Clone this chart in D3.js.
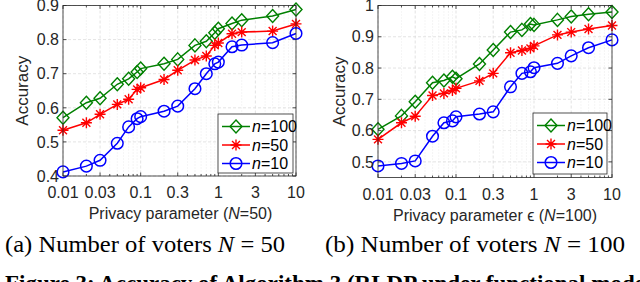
<!DOCTYPE html>
<html><head><meta charset="utf-8">
<script src="https://cdn.jsdelivr.net/npm/d3@7"></script>
<style>body{margin:0;background:#fff}svg{display:block}</style>
</head><body>
<svg id="c" width="640" height="282"></svg>
<script>
// ---- data ----
const xA = [0.01,0.02,0.03,0.05,0.07,0.09,0.1,0.2,0.3,0.5,0.7,0.9,1,1.5,2,5,10];
const xB = [0.01,0.02,0.03,0.05,0.07,0.09,0.1,0.2,0.3,0.5,0.7,0.9,1,2,3,5,10];
const a_n100 = [0.571,0.615,0.628,0.669,0.685,0.705,0.715,0.729,0.742,0.783,0.795,0.820,0.832,0.847,0.857,0.869,0.888];
const a_n50  = [0.534,0.556,0.581,0.610,0.625,0.654,0.659,0.683,0.710,0.740,0.752,0.783,0.790,0.817,0.822,0.825,0.846];
const a_n10  = [0.412,0.429,0.446,0.496,0.544,0.568,0.574,0.590,0.605,0.656,0.700,0.729,0.734,0.779,0.784,0.791,0.818];
const b_n100 = [0.604,0.647,0.692,0.753,0.760,0.772,0.766,0.813,0.858,0.915,0.922,0.941,0.938,0.954,0.965,0.972,0.979];
const b_n50  = [0.572,0.625,0.646,0.712,0.719,0.728,0.735,0.759,0.783,0.849,0.856,0.863,0.871,0.906,0.915,0.925,0.936];
const b_n10  = [0.487,0.495,0.503,0.582,0.625,0.631,0.644,0.653,0.660,0.740,0.783,0.788,0.801,0.815,0.839,0.865,0.890];
const xTicks = [0.01,0.03,0.1,0.3,1,3,10];
const xTickLabels = ["0.01","0.03","0.1","0.3","1","3","10"];
const yTicksA = [0.4,0.5,0.6,0.7,0.8,0.9];
const yTicksB = [0.5,0.6,0.7,0.8,0.9,1];
const seriesNames = ["100","50","10"];
const colors = ["#008000","#ff0000","#0000ff"];
const markers = ["diamond","star","circle"];

const svg = d3.select("#c");
const AX = "#262626";
const FONT = "'Liberation Sans', Arial, sans-serif";

function marker(g, type, cx, cy, color){
  if(type==="diamond"){
    g.append("path").attr("d",`M${cx},${cy-6.5}L${cx+6},${cy}L${cx},${cy+6.5}L${cx-6},${cy}Z`)
     .attr("fill","none").attr("stroke",color).attr("stroke-width",1.4);
  } else if(type==="circle"){
    g.append("circle").attr("cx",cx).attr("cy",cy).attr("r",5.8)
     .attr("fill","none").attr("stroke",color).attr("stroke-width",1.5);
  } else {
    const r=5.5; let d="";
    d+=`M${cx-r},${cy}L${cx+r},${cy}M${cx},${cy-r}L${cx},${cy+r}`;
    const k=r*0.72;
    d+=`M${cx-k},${cy-k}L${cx+k},${cy+k}M${cx-k},${cy+k}L${cx+k},${cy-k}`;
    g.append("path").attr("d",d).attr("stroke",color).attr("stroke-width",1.4).attr("fill","none");
  }
}

function panel(opts){
  const {x0,x1,y0,y1,xs,yDomain,yTicks,title,ylabX,yTickX,legend} = opts;
  const x = d3.scaleLog().domain([0.01,10]).range([x0,x1]);
  const y = d3.scaleLinear().domain(yDomain).range([y1,y0]);
  const g = svg.append("g");
  const minor=[];
  for(let e=-2;e<1;e++) for(let m=2;m<=9;m++){ const v=m*Math.pow(10,e); if(!xTicks.some(t=>Math.abs(t-v)<1e-9)) minor.push(v); }
  g.selectAll(".mg").data(minor).join("line")
    .attr("x1",d=>x(d)).attr("x2",d=>x(d)).attr("y1",y0).attr("y2",y1)
    .attr("stroke","#e3e3e3").attr("stroke-width",0.7).attr("stroke-dasharray","1,2");
  g.selectAll(".gx").data(xTicks).join("line")
    .attr("x1",d=>x(d)).attr("x2",d=>x(d)).attr("y1",y0).attr("y2",y1)
    .attr("stroke","#dcdcdc").attr("stroke-width",0.8).attr("stroke-dasharray","3,2");
  g.selectAll(".gy").data(yTicks).join("line")
    .attr("x1",x0).attr("x2",x1).attr("y1",d=>y(d)).attr("y2",d=>y(d))
    .attr("stroke","#dcdcdc").attr("stroke-width",0.8).attr("stroke-dasharray","3,2");
  const tk=g.append("g").attr("stroke",AX).attr("stroke-width",0.8);
  xTicks.forEach(v=>{tk.append("line").attr("x1",x(v)).attr("x2",x(v)).attr("y1",y1).attr("y2",y1-3.5);
    tk.append("line").attr("x1",x(v)).attr("x2",x(v)).attr("y1",y0).attr("y2",y0+3.5);});
  minor.forEach(v=>{tk.append("line").attr("x1",x(v)).attr("x2",x(v)).attr("y1",y1).attr("y2",y1-2);
    tk.append("line").attr("x1",x(v)).attr("x2",x(v)).attr("y1",y0).attr("y2",y0+2);});
  yTicks.forEach(v=>{tk.append("line").attr("x1",x0).attr("x2",x0+3.5).attr("y1",y(v)).attr("y2",y(v));
    tk.append("line").attr("x1",x1).attr("x2",x1-3.5).attr("y1",y(v)).attr("y2",y(v));});
  opts.series.forEach((vals,i)=>{
    const line=d3.line().x((d,j)=>x(xs[j])).y(d=>y(d));
    g.append("path").attr("d",line(vals)).attr("fill","none").attr("stroke",colors[i]).attr("stroke-width",1.5);
    vals.forEach((v,j)=>marker(g,markers[i],x(xs[j]),y(v),colors[i]));
  });
  g.append("rect").attr("x",x0).attr("y",y0).attr("width",x1-x0).attr("height",y1-y0)
    .attr("fill","none").attr("stroke",AX).attr("stroke-width",0.8);
  g.selectAll(".xl").data(xTicks).join("text").attr("x",d=>x(d)).attr("y",y1+22)
    .attr("text-anchor","middle").attr("font-family",FONT).attr("font-size",16).attr("fill",AX)
    .text((d,i)=>xTickLabels[i]);
  g.selectAll(".yl").data(yTicks).join("text").attr("x",yTickX).attr("y",d=>y(d)+5.7)
    .attr("text-anchor","end").attr("font-family",FONT).attr("font-size",16).attr("fill",AX)
    .text(d=>d3.format("")(d));
  g.append("text").attr("transform",`translate(${ylabX},${(y0+y1)/2}) rotate(-90)`)
    .attr("text-anchor","middle").attr("font-family",FONT).attr("font-size",17).attr("fill",AX).text("Accuracy");
  const t=g.append("text").attr("x",(x0+x1)/2+opts.titleDx).attr("y",y1+43).attr("text-anchor","middle")
    .attr("font-family",FONT).attr("font-size",16).attr("fill",AX);
  title.forEach(p=>t.append("tspan").attr("font-style",p.i?"italic":"normal").text(p.t));
  const L=legend;
  const lg=g.append("g");
  lg.append("rect").attr("x",L.x).attr("y",L.y).attr("width",L.w).attr("height",L.h)
    .attr("fill","#fff").attr("stroke",AX).attr("stroke-width",0.8);
  seriesNames.forEach((s,i)=>{
    const cy=L.y+12.5+i*18.5;
    lg.append("line").attr("x1",L.x+4).attr("x2",L.x+32).attr("y1",cy).attr("y2",cy).attr("stroke",colors[i]).attr("stroke-width",1.5);
    marker(lg,markers[i],L.x+18,cy,colors[i]);
    const tx=lg.append("text").attr("x",L.x+34).attr("y",cy+5.5).attr("font-family",FONT).attr("font-size",16).attr("fill","#000");
    tx.append("tspan").attr("font-style","italic").text("n");
    tx.append("tspan").text("="+s);
  });
}

panel({x0:63,x1:296,y0:5.5,y1:176,xs:xA,yDomain:[0.4,0.9],yTicks:yTicksA,series:[a_n100,a_n50,a_n10],
  title:[{t:"Privacy parameter ("},{t:"N",i:1},{t:"=50)"}],titleDx:1,ylabX:28,yTickX:59,
  legend:{x:218,y:114,w:75,h:59}});
panel({x0:378,x1:612,y0:5.5,y1:177.5,xs:xB,yDomain:[0.45,1],yTicks:yTicksB,series:[b_n100,b_n50,b_n10],
  title:[{t:"Privacy parameter ϵ ("},{t:"N",i:1},{t:"=100)"}],titleDx:0,ylabX:345,yTickX:374,
  legend:{x:533,y:113,w:74,h:61}});

const SERIF="'Liberation Serif','Times New Roman',serif";
function cap(x,parts,w){
  const t=svg.append("text").attr("x",x).attr("y",252).attr("font-family",SERIF).attr("font-size",24).attr("fill","#000")
    .attr("textLength",w).attr("lengthAdjust","spacingAndGlyphs");
  parts.forEach(p=>t.append("tspan").attr("font-style",p.i?"italic":"normal").text(p.t));
}
cap(5,[{t:"(a) Number of voters "},{t:"N",i:1},{t:" = 50"}],280);
cap(325,[{t:"(b) Number of voters "},{t:"N",i:1},{t:" = 100"}],300);
svg.append("text").attr("x",5).attr("y",291).attr("font-family",SERIF).attr("font-weight","bold")
  .attr("font-size",23).attr("fill","#000").text("Figure 3: Accuracy of Algorithm 3 (RLDP under functional model)");
</script>
</body></html>
